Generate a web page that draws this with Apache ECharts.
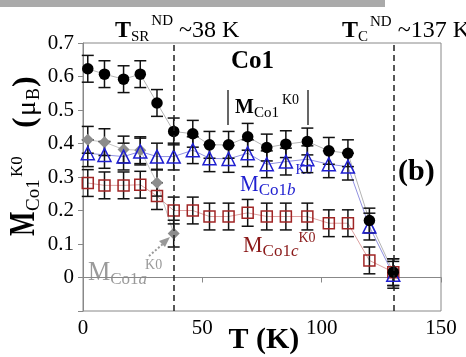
<!DOCTYPE html>
<html><head><meta charset="utf-8">
<script src="https://cdn.jsdelivr.net/npm/echarts@6/dist/echarts.min.js"></script>
<style>html,body{margin:0;padding:0;background:#fff}#c{width:466px;height:357px}</style>
</head><body><div id="c"></div>
<script>
// ---- data ----
const temps = [2, 9, 17, 24, 31, 38, 46, 53, 61, 69, 77, 85, 94, 103, 111, 120, 130];
const totalM = [0.623, 0.607, 0.592, 0.607, 0.521, 0.436, 0.429, 0.396, 0.396, 0.420, 0.388, 0.398, 0.406, 0.378, 0.371, 0.170, 0.016];
const totalErr = [0.04, 0.04, 0.04, 0.04, 0.04, 0.04, 0.04, 0.04, 0.04, 0.04, 0.04, 0.04, 0.04, 0.04, 0.04, 0.037, 0.04];
const bM = [0.371, 0.366, 0.361, 0.376, 0.361, 0.361, 0.380, 0.356, 0.354, 0.371, 0.338, 0.346, 0.353, 0.338, 0.331, 0.152, 0.008];
const bErr = [0.04, 0.04, 0.04, 0.04, 0.04, 0.04, 0.04, 0.04, 0.04, 0.04, 0.04, 0.04, 0.04, 0.04, 0.04, 0.04, 0.04];
const cM = [0.282, 0.275, 0.275, 0.277, 0.243, 0.200, 0.200, 0.182, 0.182, 0.193, 0.182, 0.182, 0.182, 0.162, 0.162, 0.051, 0.016];
const cErr = [0.04, 0.04, 0.04, 0.04, 0.04, 0.04, 0.04, 0.04, 0.04, 0.04, 0.04, 0.04, 0.04, 0.04, 0.04, 0.04, 0.04];
const aTemps = [2, 9, 17, 24, 31, 38];
const aM = [0.411, 0.404, 0.382, 0.380, 0.283, 0.131];
const aErr = [0.04, 0.04, 0.04, 0.04, 0.04, 0.04];
const transitionTemps = [38, 130];

// ---- helpers ----
const SERIF = '"Liberation Serif", "Times New Roman", serif';
const mctx = document.createElement('canvas').getContext('2d');
function label(x, y, color, pieces, extra) {
  let cx = 0; const children = [];
  pieces.forEach(p => {
    const f = (p.i ? 'italic ' : '') + (p.b ? 'bold ' : '') + p.s + 'px ' + SERIF;
    mctx.font = f;
    const w = mctx.measureText(p.t).width;
    if (p.x !== undefined) cx = p.x;
    cx += (p.dx || 0);
    const sy = p.sy || 1;
    children.push({type: 'text', x: cx, y: (p.dy || 0) - 0.34 * p.s * sy, scaleY: sy,
      style: {text: p.t, fontSize: p.s, fontFamily: SERIF, fontWeight: p.b ? 'bold' : 'normal',
              fontStyle: p.i ? 'italic' : 'normal', fill: color, align: 'left', verticalAlign: 'middle'}});
    cx += w;
  });
  return Object.assign({type: 'group', x: x, y: y, children: children, silent: true}, extra || {});
}
function pairs(xs, ys) { return xs.map((x, i) => [x, ys[i]]); }
function errSeries(xs, ys, es) {
  return {
    type: 'custom', z: 2, silent: true,
    data: xs.map((x, i) => [x, ys[i] - es[i], ys[i] + es[i]]),
    encode: {x: 0, y: [1, 2]},
    renderItem: function (params, api) {
      const lo = api.coord([api.value(0), api.value(1)]);
      const hi = api.coord([api.value(0), api.value(2)]);
      const w = 6, st = {stroke: '#111', lineWidth: 1.5};
      return {type: 'group', children: [
        {type: 'line', shape: {x1: lo[0], y1: lo[1], x2: hi[0], y2: hi[1]}, style: st},
        {type: 'line', shape: {x1: lo[0] - w, y1: lo[1], x2: lo[0] + w, y2: lo[1]}, style: st},
        {type: 'line', shape: {x1: hi[0] - w, y1: hi[1], x2: hi[0] + w, y2: hi[1]}, style: st}
      ]};
    }
  };
}
function connect(xs, ys, color, extra) {
  return Object.assign({type: 'line', z: 1, silent: true, showSymbol: false, symbol: 'none',
    data: pairs(xs, ys), lineStyle: {color: color, width: 1}}, extra || {});
}

const chart = echarts.init(document.getElementById('c'), null, {renderer: 'canvas'});
const option = {
  animation: false,
  grid: {left: 83, top: 43, width: 358, height: 268, show: true, borderColor: '#888', borderWidth: 1},
  xAxis: {type: 'value', min: 0, max: 150, interval: 50,
    axisLine: {show: true, lineStyle: {color: '#888', width: 1}},
    axisTick: {show: true, length: 5, lineStyle: {color: '#888'}},
    splitLine: {show: false},
    axisLabel: {color: '#000', fontFamily: SERIF, fontSize: 21, margin: 7}},
  yAxis: {type: 'value', min: -0.1, max: 0.7, interval: 0.1,
    axisLine: {show: true, lineStyle: {color: '#888', width: 1}},
    axisTick: {show: true, length: 5, lineStyle: {color: '#888'}},
    splitLine: {show: false},
    axisLabel: {color: '#000', fontFamily: SERIF, fontSize: 21, margin: 9,
      formatter: v => v < -0.001 ? '' : (Math.abs(v) < 1e-6 ? '0' : v.toFixed(1))}},
  series: [
    connect(temps, totalM, '#b4b4b4', {markLine: {silent: true, symbol: 'none', label: {show: false},
      lineStyle: {type: [6, 4], color: '#222', width: 1.5},
      data: transitionTemps.map(t => ({xAxis: t}))}}),
    connect(temps, bM, '#9090e0'),
    connect(temps, cM, '#dca0a0'),
    connect(aTemps, aM, '#c4c4c4'),
    errSeries(temps, totalM, totalErr),
    errSeries(temps, bM, bErr),
    errSeries(temps, cM, cErr),
    errSeries(aTemps, aM, aErr),
    {type: 'scatter', z: 3, silent: true, data: pairs(aTemps, aM), symbol: 'diamond', symbolSize: 12,
      itemStyle: {color: '#8c8c8c', opacity: 1}},
    {type: 'scatter', z: 3, silent: true, data: pairs(temps, cM), symbol: 'rect', symbolSize: 11,
      itemStyle: {color: 'rgba(0,0,0,0)', borderColor: '#a02525', borderWidth: 1.5, opacity: 1}},
    {type: 'scatter', z: 3, silent: true, data: pairs(temps, bM), symbol: 'triangle', symbolSize: 13,
      itemStyle: {color: 'rgba(0,0,0,0)', borderColor: '#1f1fd0', borderWidth: 1.5, opacity: 1}},
    {type: 'scatter', z: 4, silent: true, data: pairs(temps, totalM), symbol: 'circle', symbolSize: 11.5,
      itemStyle: {color: '#000', opacity: 1}}
  ],
  graphic: [
    {type: 'rect', shape: {x: 0, y: 0, width: 385, height: 7}, style: {fill: '#aaaaaa'}, silent: true},
    label(115, 38.5, '#000', [{t: 'T', s: 24, b: 1}, {t: 'SR', s: 15, dy: 3.5}, {t: 'ND', s: 15, dy: -12, dx: 2}, {t: ' ~38 K', s: 24}]),
    label(342, 39, '#000', [{t: 'T', s: 24, b: 1}, {t: 'C', s: 15, dy: 3.5}, {t: 'ND', s: 15, dy: -12, dx: 2}, {t: ' ~137 K', s: 24}]),
    label(231, 70.5, '#000', [{t: 'Co1', s: 25, b: 1, sy: 1.05}]),
    {type: 'line', shape: {x1: 228, y1: 90, x2: 228, y2: 125}, style: {stroke: '#000', lineWidth: 1.2}, silent: true},
    {type: 'line', shape: {x1: 308, y1: 90, x2: 308, y2: 125}, style: {stroke: '#000', lineWidth: 1.2}, silent: true},
    label(235, 115, '#000', [{t: 'M', s: 20, b: 1, sy: 1.1}, {t: 'Co1', s: 15, dy: 3}, {t: 'K0', s: 14, dy: -10, dx: 3}]),
    label(240, 193, '#1f1fd0', [{t: 'M', s: 21, sy: 1.05}, {t: 'Co1', s: 17, dy: 3}, {t: 'b', s: 17, i: 1, dy: 3}, {t: 'K0', s: 14, dy: -18}]),
    label(243, 254, '#8b1a1a', [{t: 'M', s: 22, sy: 1.05}, {t: 'Co1', s: 17, dy: 3}, {t: 'c', s: 17, i: 1, dy: 3}, {t: 'K0', s: 14, dy: -11}]),
    label(88, 282, '#9a9a9a', [{t: 'M', s: 25, sy: 1.1}, {t: 'Co1', s: 17, dy: 3}, {t: 'a', s: 17, i: 1, dy: 3}, {t: 'K0', s: 14, dy: -12, dx: -2}]),
    label(398, 182, '#000', [{t: '(b)', s: 30, b: 1}]),
    {type: 'line', shape: {x1: 149, y1: 256, x2: 164, y2: 243}, style: {stroke: '#999', lineWidth: 2, lineDash: [2, 2]}, silent: true},
    {type: 'polygon', shape: {points: [[170, 237], [159, 241], [165, 247]]}, style: {fill: '#999'}, silent: true},
    label(264 - 35.5, 350, '#000', [{t: 'T (K)', s: 30, b: 1}]),
    label(37, 236, '#000', [
      {t: 'M', s: 26, b: 1, sy: 1.35, x: 0},
      {t: 'Co1', s: 19, dy: 3, x: 25},
      {t: 'K0', s: 17, dy: -14, x: 59},
      {t: '(', s: 32, b: 1, x: 108},
      {t: 'μ', s: 28, x: 120},
      {t: 'B', s: 18, dy: 3, x: 136},
      {t: ')', s: 32, b: 1, x: 149}
    ], {rotation: Math.PI / 2})
  ]
};
chart.setOption(option);
</script>
</body></html>
